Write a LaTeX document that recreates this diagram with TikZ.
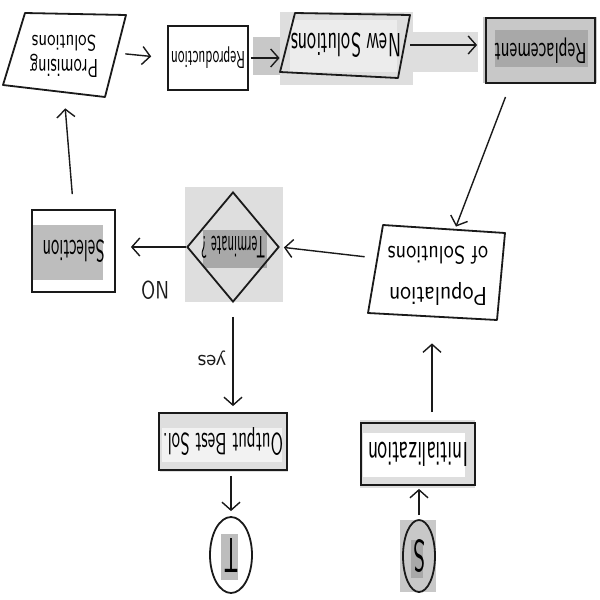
\documentclass[tikz,border=0pt]{standalone}
\usetikzlibrary{arrows.meta,shapes.geometric}
\newcommand{\ud}[3]{\rotatebox{180}{\resizebox{#1}{#2}{#3}}}
\definecolor{bgA}{HTML}{DEDEDE}
\definecolor{bgB}{HTML}{ECECEC}
\definecolor{bgC}{HTML}{C8C8C8}
\definecolor{bgD}{HTML}{A8A8A8}
\definecolor{bgE}{HTML}{BDBDBD}
\definecolor{ink}{HTML}{1A1A1A}
\begin{document}
\begin{tikzpicture}[x=0.5pt,y=-0.5pt,font=\sffamily,
  boxd/.style={draw=ink,line width=0.9pt,inner sep=0pt},
  anchorbox/.style={inner sep=0pt},
  shapeline/.style={draw=ink,line width=0.9pt,line join=round},
  arr/.style={draw=ink,-{Straight Barb[length=4pt,width=9pt]},line width=0.7pt},
  lbl/.style={inner sep=0pt,text=ink}]
\useasboundingbox[fill=white] (0,0) rectangle (600,600);
% background patches
\fill[bgC] (253,37) rectangle (283,75);
\fill[bgA] (280,12) rectangle (413,85);
\fill[bgB] (290,20) rectangle (397,72);
\fill[bgA] (407,32) rectangle (478,72);
\fill[bgC] (483,17) rectangle (597,83);
\fill[bgD] (495,30) rectangle (588,67);
\fill[bgA] (185,187) rectangle (283,302);
\fill[bgD] (203,230) rectangle (267,268);
\fill[bgE] (32,225) rectangle (103,280);
\fill[bgA] (160,412) rectangle (288,472);
\fill[white!95!black] (162,428) rectangle (282,462);
\fill[bgA] (360,420) rectangle (475,488);
\fill[white] (363,433) rectangle (465,477);
\fill[bgE] (221,534) rectangle (238,580);
\fill[bgC] (400,520) rectangle (436,592);
\fill[bgD] (411,540) rectangle (423,578);
% parallelograms
\path[shapeline] (25,13) -- (126,15) -- (105,97) -- (3,85) -- cycle;
\path[shapeline] (295,13) -- (410,15) -- (398,78) -- (280,72) -- cycle;
\path[shapeline] (383,225) -- (505,233) -- (497,320) -- (368,313) -- cycle;
% nodes
\node[anchorbox,minimum width=52pt,minimum height=40pt] (prom) at (64,53)
  {\rotatebox{180}{\begin{tabular}{@{}c@{}}\resizebox{34pt}{9pt}{Promising}\\[0pt]\resizebox{32pt}{8pt}{Solutions}\end{tabular}}};
\node[boxd,minimum width=40pt,minimum height=32pt] (repro) at (208,58) {\ud{37pt}{8.5pt}{Reproduction}};
\node[anchorbox,minimum width=58pt,minimum height=32pt] (newsol) at (346,45) {\ud{55pt}{12pt}{New Solutions}};
\node[boxd,minimum width=54.5pt,minimum height=32.5pt] (repl) at (540.5,50.5) {\ud{46pt}{10pt}{Replacement}};
\node[anchorbox,minimum width=62pt,minimum height=45pt] (pop) at (438,272)
  {\rotatebox{180}{\begin{tabular}{@{}c@{}}\resizebox{49pt}{9pt}{Population}\\[8pt]\resizebox{50pt}{9pt}{of Solutions}\end{tabular}}};
\node[draw=ink,diamond,line width=0.9pt,inner sep=0pt,minimum width=46pt,minimum height=55pt] (term) at (233,247) {\ud{32pt}{11pt}{Terminate ?}};
\node[boxd,minimum width=41.5pt,minimum height=41pt] (sel) at (73.5,251) {\ud{31pt}{11pt}{Selection}};
\node[boxd,minimum width=64pt,minimum height=28.5pt] (out) at (223,441.5) {\ud{60pt}{11pt}{Output Best Sol.}};
\node[boxd,minimum width=57pt,minimum height=31pt] (init) at (418,454) {\ud{50pt}{12pt}{Initialization}};
\node[draw=ink,ellipse,line width=0.9pt,inner sep=0pt,minimum width=21pt,minimum height=38pt] (T) at (231,555) {\ud{7pt}{17pt}{T}};
\node[draw=ink,ellipse,line width=0.9pt,inner sep=0pt,minimum width=16pt,minimum height=36pt] (S) at (419,556) {\ud{6pt}{16pt}{S}};
\node[lbl] (no) at (155,290) {\ud{14pt}{9pt}{NO}};
\node[lbl] (yes) at (212,358) {\rotatebox{180}{\resizebox{14pt}{!}{yes}}};
% connectors
\draw[arr,shorten <=4.5pt,shorten >=8pt] (prom.east) -- (repro.west);
\draw[arr,shorten <=1pt,shorten >=4pt] (repro.east) -- (repro.east -| newsol.west);
\draw[arr,shorten <=3pt,shorten >=4pt] (newsol.east) -- (newsol.east -| repl.west);
\draw[arr,shorten <=7pt] ([xshift=-15pt]repl.south) -- ([xshift=9pt]pop.north);
\draw[arr,shorten <=5.5pt,shorten >=2pt] ([yshift=7pt]pop.west) -- (term.east);
\draw[arr,shorten >=7.5pt] (term.west) -- (term.west -| sel.east);
\draw[arr,shorten <=7.5pt,shorten >=7.5pt] (sel.north) -- (prom.south);
\draw[arr,shorten <=7pt,shorten >=3pt] (term.south) -- (term.south |- out.north);
\draw[arr,shorten <=2.5pt,shorten >=2.5pt] (T.north |- out.south) -- (T.north);
\draw[arr,shorten <=2pt,shorten >=1.5pt] (S.north) -- (S.north |- init.south);
\draw[arr,shorten <=5pt,shorten >=13pt] ([xshift=7pt]init.north) -- ([xshift=7pt]init.north |- pop.south);
\end{tikzpicture}
\end{document}
